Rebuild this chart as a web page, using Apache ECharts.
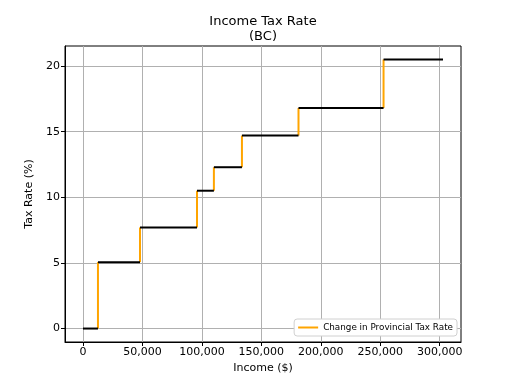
<!DOCTYPE html>
<html><head><meta charset="utf-8">
<script src="https://cdn.jsdelivr.net/npm/echarts@6/dist/echarts.min.js"></script>
<style>html,body{margin:0;padding:0;background:#fff}#c{width:512px;height:384px}</style>
</head><body><div id="c"></div>
<script>
// Bracket thresholds (income $) and tax rate (%) in each bracket
const thresholds = [0, 12580, 47937, 95875, 110076, 133664, 181232, 252752, 302752];
const rates = [0, 5.06, 7.7, 10.5, 12.29, 14.7, 16.8, 20.5];
const xTicks = [0, 50000, 100000, 150000, 200000, 250000, 300000];
const yTicks = [0, 5, 10, 15, 20];

const FONT = 'DejaVu Sans';
const series = [];
// orange vertical changes
for (let i = 1; i < rates.length; i++) {
  series.push({
    name: 'Change in Provincial Tax Rate', type: 'line', symbol: 'none',
    lineStyle: {color: '#FFA500', width: 2}, itemStyle: {color: '#FFA500'},
    data: [[thresholds[i], rates[i - 1]], [thresholds[i], rates[i]]],
    z: 3, silent: true, animation: false
  });
}
// black horizontal brackets
for (let i = 0; i < rates.length; i++) {
  series.push({
    name: 'bracket', type: 'line', symbol: 'none',
    lineStyle: {color: '#000', width: 2},
    data: [[thresholds[i], rates[i]], [thresholds[i + 1], rates[i]]],
    z: 4, silent: true, animation: false
  });
}
const xr = thresholds[thresholds.length - 1] - thresholds[0];
const yr = rates[rates.length - 1] - rates[0];
const chart = echarts.init(document.getElementById('c'));
chart.setOption({
  animation: false,
  textStyle: {fontFamily: FONT},
  graphic: [{type: 'text', x: 263, y: 14, style: {text: 'Income Tax Rate\n(BC)', align: 'center', verticalAlign: 'top', font: '13px "DejaVu Sans"', lineHeight: 15, fill: '#000'}}],
  grid: {left: 65, right: 51, top: 46, bottom: 42, show: true, borderColor: '#000', borderWidth: 1, backgroundColor: 'transparent'},
  legend: {
    data: [{name: 'Change in Provincial Tax Rate', icon: 'rect'}],
    right: 55, bottom: 48, itemWidth: 20, itemHeight: 2, itemGap: 5,
    borderColor: '#d0d0d0', borderWidth: 1, borderRadius: 3, padding: [4, 4, 4, 4],
    backgroundColor: '#fff', textStyle: {fontSize: 8.8, color: '#000', fontFamily: FONT}
  },
  xAxis: {
    type: 'value', min: thresholds[0] - xr * 0.05, max: thresholds[thresholds.length - 1] + xr * 0.05,
    name: 'Income ($)', nameLocation: 'middle', nameGap: 20,
    nameTextStyle: {fontSize: 11, color: '#000', fontFamily: FONT},
    axisLine: {show: true, onZero: false, lineStyle: {color: '#000'}},
    axisTick: {show: true, inside: false, length: 4, customValues: xTicks, lineStyle: {color: '#000'}},
    axisLabel: {customValues: xTicks, fontSize: 11, color: '#000', margin: 5, fontFamily: FONT,
      formatter: v => v.toLocaleString('en-US')},
    splitLine: {show: true, lineStyle: {color: '#b0b0b0', width: 1}}
  },
  yAxis: {
    type: 'value', min: rates[0] - yr * 0.05, max: rates[rates.length - 1] + yr * 0.05,
    name: 'Tax Rate (%)', nameLocation: 'middle', nameGap: 26,
    nameTextStyle: {fontSize: 11, color: '#000', fontFamily: FONT},
    axisLine: {show: true, onZero: false, lineStyle: {color: '#000'}},
    axisTick: {show: true, inside: false, length: 4, customValues: yTicks, lineStyle: {color: '#000'}},
    axisLabel: {customValues: yTicks, fontSize: 11, color: '#000', margin: 5, fontFamily: FONT},
    splitLine: {show: true, lineStyle: {color: '#b0b0b0', width: 1}}
  },
  series: series
});
</script></body></html>
